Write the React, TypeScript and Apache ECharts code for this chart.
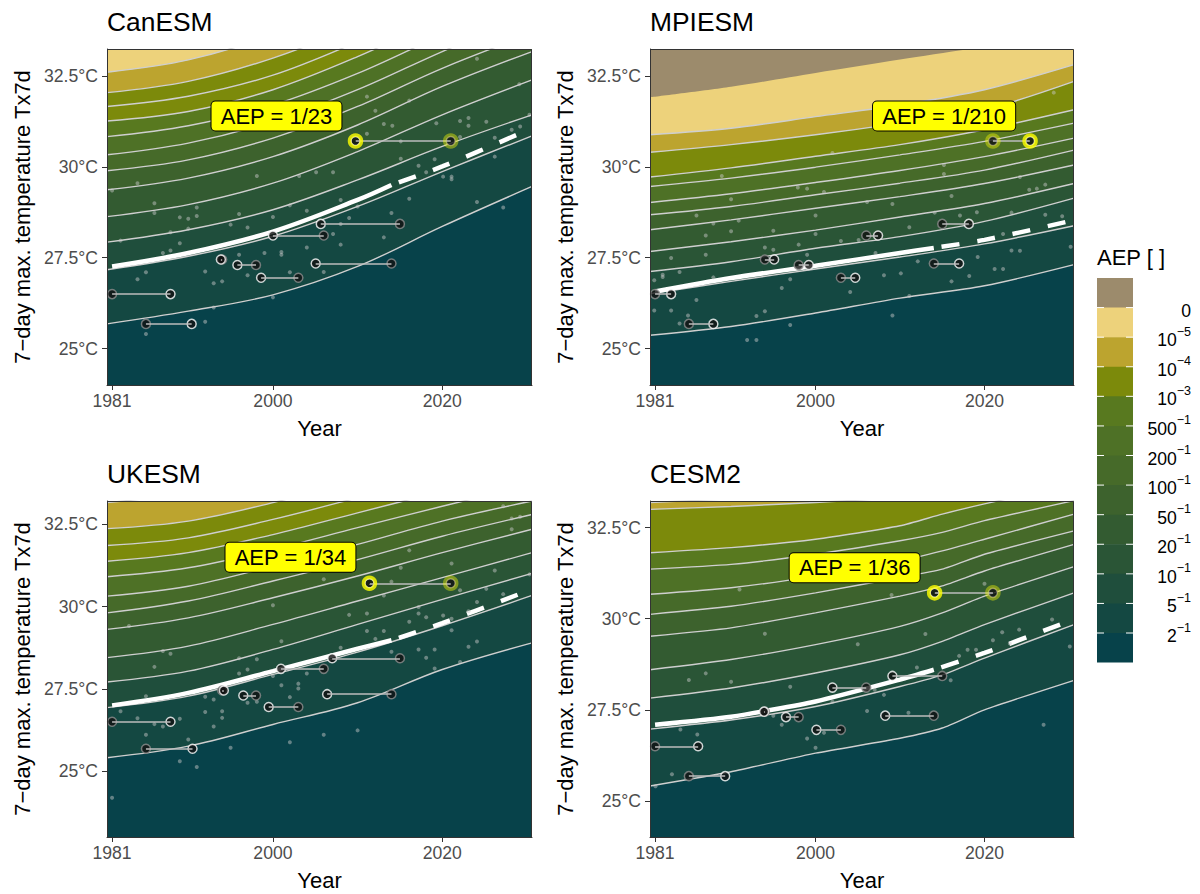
import React, { useEffect, useRef } from "react";
import * as echarts from "echarts";

const FONT = "'Liberation Sans', Arial, Helvetica, sans-serif";

// legend palette, top (AEP 0) to bottom (AEP > 1/2)
const PALETTE = ["#9C8B6C", "#EDD27B", "#BCA42F", "#7C8A0B", "#58791F", "#4E7126", "#466A29", "#3D622D", "#335B31", "#2A5536", "#1F4E3C", "#144842", "#07424A"];
const legendBase = ["0", "10", "10", "10", "500", "200", "100", "50", "20", "10", "5", "2"];
const legendExp = ["", "−5", "−4", "−3", "−1", "−1", "−1", "−1", "−1", "−1", "−1", "−1"];

const xTicks = [1981, 2000, 2020];
const yTicks = [25, 27.5, 30, 32.5];

// observed events (grey ring) and their model-equivalent years (white ring)
const obsYears = [1981, 1985, 1994, 1998, 2003, 2006, 2014, 2015, 2021];
const obsTemps = [26.5, 25.68, 27.45, 27.3, 26.95, 28.11, 27.34, 28.43, 30.71];

// ---------- CanESM ----------
const canYears = [1980.4, 1990, 2000, 2010, 2020, 2030.6];
const canContours = [
  [25.68, 26.03, 26.48, 27.26, 28.36, 29.46],
  [27.17, 27.54, 28.09, 28.91, 29.87, 30.85],
  [27.93, 28.27, 28.82, 29.64, 30.56, 31.43],
  [28.63, 28.96, 29.55, 30.42, 31.43, 32.39],
  [29.37, 29.69, 30.28, 31.15, 32.21, 33.17],
  [29.89, 30.19, 30.79, 31.66, 32.71, 33.67],
  [30.33, 30.65, 31.25, 32.12, 33.17, 34.2],
  [30.83, 31.13, 31.7, 32.57, 33.63, 34.7],
  [31.26, 31.52, 32.12, 33.03, 34.1, 35.2],
  [31.66, 31.94, 32.52, 33.44, 34.5, 35.6],
  [32.04, 32.35, 32.99, 33.9, 35.0, 36.0],
  [32.6, 32.94, 33.63, 34.6, 35.6, 36.6],
];
const canBandAbove = [11, 10, 9, 8, 7, 6, 5, 4, 3, 3, 2, 1];
const canWhiteYears = [1981, 1990, 2000, 2010, 2014, 2020, 2030];
const canWhite = [27.26, 27.63, 28.22, 29.09, 29.5, 30.01, 31.0];
const canEquiv = [1987.9, 1990.4, 1993.85, 1995.8, 1998.6, 2000.0, 2005.05, 2005.65, 2009.75];
const canPoints = [
  [2024.1, 32.97], [2029.1, 32.27], [2011.1, 31.93], [2016.1, 31.82], [2012.1, 31.54], [2019.3, 31.2], [2013.1, 31.18],
  [2014.1, 31.13], [2022.1, 31.26], [2023.1, 31.34], [2023.1, 31.13], [2025.2, 31.24], [2030.3, 31.43], [2011.1, 30.91],
  [2026.2, 30.8], [2028.2, 31.02], [2029.2, 31.11], [2015.1, 30.7], [2022.1, 30.82], [2026.2, 30.28], [2019.1, 30.21],
  [2015.1, 30.22], [2017.2, 30.03], [2018.1, 29.85], [2020.1, 29.73], [2021.1, 29.73], [2021.1, 29.66], [1998.1, 29.75],
  [2003.1, 29.75], [2005.1, 29.85], [2007.1, 29.85], [1984.0, 29.55], [1981.0, 29.35], [1986.0, 29.0], [1986.0, 28.73],
  [1991.0, 28.88], [1991.0, 28.65], [1989.0, 28.61], [1990.0, 28.57], [1990.0, 28.3], [1987.9, 28.2], [1982.0, 27.97],
  [1989.0, 27.9], [1996.0, 28.7], [1997.0, 28.33], [1995.0, 28.41], [2002.0, 28.94], [2000.0, 28.62], [2004.0, 28.79],
  [2008.0, 29.09], [2010.0, 28.91], [2009.0, 28.59], [2008.0, 28.43], [2007.1, 28.15], [2014.0, 28.73], [2016.1, 29.12],
  [2013.1, 28.06], [2008.0, 27.86], [2004.0, 27.78], [2001.0, 27.66], [2001.0, 27.58], [1999.0, 27.63], [1996.0, 27.58],
  [1987.9, 27.7], [1987.0, 27.63], [1985.0, 27.1], [1984.0, 26.91], [1992.0, 27.12], [1997.0, 27.02], [1994.0, 26.85],
  [1993.0, 26.8], [2002.0, 27.1], [2006.0, 27.11], [2000.0, 26.41], [1993.0, 26.13], [1992.0, 25.74], [1985.0, 25.4],
  [2024.1, 29.03], [2027.2, 28.88],
];

// ---------- MPIESM ----------
const mpiYears = [1980.4, 1990, 2000, 2010, 2020, 2030.6];
const mpiContours = [
  [25.37, 25.61, 25.98, 26.39, 26.73, 27.31],
  [26.51, 26.85, 27.19, 27.52, 27.88, 28.38],
  [27.12, 27.39, 27.76, 28.08, 28.5, 29.14],
  [27.67, 27.94, 28.26, 28.62, 28.99, 29.54],
  [28.27, 28.54, 28.86, 29.18, 29.54, 30.05],
  [28.68, 28.91, 29.23, 29.55, 29.91, 30.46],
  [29.02, 29.26, 29.57, 29.9, 30.28, 30.79],
  [29.46, 29.69, 29.99, 30.33, 30.7, 31.2],
  [29.72, 29.97, 30.29, 30.61, 31.02, 31.57],
  [30.4, 30.61, 30.88, 31.2, 31.57, 32.35],
  [30.88, 31.06, 31.38, 31.7, 32.12, 32.81],
];
const mpiBandAbove = [11, 10, 9, 8, 7, 6, 5, 4, 3, 2, 1];
const mpiZeroEdge = [31.91, 32.2, 32.58, 32.95, 33.3, 33.65];
const mpiWhiteYears = [1981, 1990, 2000, 2010, 2014, 2020, 2030];
const mpiWhite = [26.57, 26.94, 27.28, 27.63, 27.77, 27.99, 28.5];
const mpiEquiv = [1982.9, 1987.9, 1995.1, 1999.2, 2004.7, 2007.4, 2017.0, 2018.15, 2025.4];
const mpiPoints = [
  [2028.2, 32.04], [2002.0, 30.38], [1988.9, 29.75], [2015.2, 30.05], [2015.2, 29.8], [2024.2, 29.72], [1990.0, 29.11],
  [1997.9, 29.43], [1999.0, 29.4], [2001.0, 29.31], [2006.1, 29.03], [2009.1, 28.98], [2016.1, 29.2], [2025.3, 29.37],
  [2026.2, 29.4], [2027.2, 29.51], [1985.9, 28.66], [1990.9, 28.52], [2000.0, 28.66], [2014.1, 28.74], [2017.1, 28.66],
  [2019.1, 28.75], [2023.2, 28.74], [2027.2, 28.68], [2029.2, 28.64], [1987.0, 28.11], [1987.9, 28.44], [1990.0, 28.23],
  [1995.0, 28.24], [2000.0, 28.15], [2003.0, 27.96], [2005.1, 27.99], [1998.0, 27.86], [1995.0, 27.72], [1994.0, 27.78],
  [2007.1, 27.63], [2011.1, 28.34], [2022.2, 28.15], [1982.9, 27.49], [1987.0, 27.58], [1999.0, 27.58], [1980.9, 26.88],
  [1981.9, 27.03], [1981.9, 26.97], [1983.9, 27.11], [1987.9, 26.96], [1997.0, 26.91], [1996.0, 26.67], [2004.1, 26.56],
  [2008.1, 27.02], [2010.1, 27.07], [2012.1, 27.4], [2016.1, 26.85], [2018.2, 27.0], [2019.2, 27.52], [2021.2, 27.19],
  [2022.2, 27.19], [2023.2, 27.7], [2024.2, 27.69], [2030.2, 27.8], [1985.9, 26.34], [1980.9, 26.05], [1982.9, 26.05],
  [1984.9, 25.91], [1983.9, 25.69], [1993.0, 25.9], [1994.0, 26.03], [1997.0, 25.65], [1991.9, 25.24], [1993.0, 25.24],
  [2009.1, 25.91], [2011.1, 26.45],
];

// ---------- UKESM ----------
const ukYears = [1980.4, 1990, 2000, 2010, 2020, 2030.6];
const ukContours = [
  [25.41, 25.76, 26.42, 27.08, 28.09, 28.9],
  [26.93, 27.28, 27.94, 28.62, 29.42, 30.34],
  [27.71, 28.04, 28.7, 29.46, 30.22, 31.01],
  [28.45, 28.8, 29.46, 30.17, 30.88, 31.64],
  [29.31, 29.66, 30.27, 30.93, 31.64, 32.35],
  [29.81, 30.17, 30.78, 31.43, 32.14, 32.8],
  [30.32, 30.62, 31.23, 31.89, 32.6, 33.21],
  [30.91, 31.18, 31.74, 32.4, 33.05, 33.71],
  [31.38, 31.64, 32.19, 32.85, 33.51, 34.2],
  [31.86, 32.09, 32.65, 33.31, 34.0, 34.7],
  [32.37, 32.6, 33.16, 33.85, 34.5, 35.2],
  [33.16, 33.46, 34.0, 34.6, 35.2, 35.8],
];
const ukBandAbove = [11, 10, 9, 8, 7, 6, 5, 4, 3, 3, 2, 2];
const ukWhiteYears = [1981, 1990, 2000, 2010, 2014, 2020, 2030];
const ukWhite = [27.0, 27.38, 28.04, 28.72, 28.98, 29.5, 30.47];
const ukEquiv = [1987.9, 1990.5, 1994.2, 1996.5, 1999.5, 2000.95, 2006.4, 2007.0, 2011.4];
const ukPoints = [
  [2027.2, 33.05], [2028.2, 32.68], [2029.2, 32.73], [2028.2, 32.35], [2016.1, 31.71], [2021.1, 31.31], [2015.1, 31.18],
  [2026.2, 31.1], [2006.0, 30.83], [2014.0, 30.76], [2022.1, 30.5], [2013.1, 30.34], [2030.3, 30.98], [2025.2, 30.54],
  [2027.2, 30.38], [2000.0, 30.04], [2009.0, 29.75], [2011.1, 29.79], [2017.2, 29.99], [2017.2, 29.79], [2018.1, 29.68],
  [2016.1, 29.54], [2020.1, 29.73], [2021.1, 29.63], [2023.1, 29.86], [2024.1, 30.14], [1983.0, 29.41], [2011.1, 29.26],
  [2012.1, 29.02], [2013.1, 29.26], [2021.1, 29.28], [2001.0, 28.95], [1987.0, 28.65], [1987.9, 28.57], [1986.0, 28.17],
  [1996.0, 28.43], [1997.0, 28.09], [1996.0, 27.97], [1998.1, 28.4], [2000.0, 27.89], [2004.0, 27.97], [2008.0, 28.75],
  [2014.0, 28.63], [2017.2, 28.7], [2019.1, 28.7], [2018.1, 28.45], [2019.1, 28.12], [2022.1, 28.32], [2023.1, 28.78],
  [2024.1, 28.94], [2001.0, 27.61], [2003.0, 27.66], [2003.0, 27.51], [1997.0, 27.08], [1998.1, 27.11], [2002.0, 27.25],
  [1985.0, 27.28], [1992.0, 27.26], [1993.0, 27.18], [1994.0, 26.82], [1994.0, 26.62], [1992.0, 26.8], [1982.0, 26.82],
  [1984.0, 26.61], [1986.0, 26.43], [1987.0, 26.36], [1989.0, 26.59], [1993.0, 26.36], [1985.0, 26.11], [1990.0, 25.96],
  [1989.0, 25.3], [1991.0, 25.13], [1995.0, 25.71], [2002.0, 25.88], [2006.0, 26.11], [2010.0, 26.24], [1981.0, 24.19],
];

// ---------- CESM2 ----------
const cesYears = [1980.4, 1990, 2000, 2010, 2015, 2020, 2030.6];
const cesContours = [
  [25.41, 25.8, 26.31, 26.72, 27.0, 27.5, 28.31],
  [26.97, 27.22, 27.59, 28.14, 28.46, 28.92, 29.84],
  [27.82, 28.1, 28.51, 29.01, 29.38, 29.84, 30.71],
  [28.6, 28.88, 29.29, 29.79, 30.16, 30.62, 31.43],
  [29.52, 29.75, 30.16, 30.62, 30.9, 31.31, 32.04],
  [30.12, 30.34, 30.71, 31.13, 31.36, 31.77, 32.41],
  [30.67, 30.85, 31.17, 31.58, 31.86, 32.18, 32.87],
  [31.36, 31.49, 31.77, 32.14, 32.37, 32.69, 33.24],
  [31.81, 31.95, 32.18, 32.55, 32.87, 33.15, 33.7],
  [33.0, 33.08, 33.19, 33.33, 33.47, 33.65, 34.02],
  [33.19, 33.29, 33.45, 33.6, 33.75, 33.9, 34.3],
];
const cesBandAbove = [11, 10, 9, 8, 7, 6, 5, 4, 3, 2, 1];
const cesWhiteYears = [1981, 1990, 2000, 2010, 2014, 2020, 2030];
const cesWhite = [27.09, 27.31, 27.73, 28.33, 28.6, 29.06, 29.93];
const cesEquiv = [1986.1, 1989.3, 1993.9, 1996.5, 2000.1, 2002.0, 2008.25, 2009.1, 2014.1];
const cesPoints = [
  [1991.0, 30.8], [2009.0, 30.65], [2020.0, 30.96], [1994.0, 29.59], [2013.0, 29.58], [2005.0, 29.3], [2022.1, 29.63],
  [2024.1, 29.7], [2023.0, 29.32], [2021.0, 29.41], [2028.0, 29.98], [2030.1, 29.24], [2017.0, 28.98], [2018.0, 29.15],
  [2019.0, 29.15], [1987.0, 28.5], [1985.0, 28.32], [1990.0, 28.27], [2012.0, 28.66], [2016.0, 28.31], [1997.0, 28.13],
  [2002.0, 27.72], [2007.0, 28.05], [2008.1, 27.91], [2006.1, 27.47], [2011.0, 27.42], [1995.0, 27.34], [1996.0, 27.09],
  [2001.0, 26.87], [1999.0, 26.71], [2000.0, 26.46], [1984.0, 26.96], [1986.0, 26.82], [2027.0, 27.09], [1983.0, 25.73],
  [1981.05, 25.4],
];

const SPLIT_YEAR = 2014;

const PANELS = [
  { title: "CanESM", left: 107, top: 49, width: 425, height: 336, yMin: 24.0, yMax: 33.24, years: canYears, contours: canContours, bandAbove: canBandAbove, edge: null as number[] | null, whiteYears: canWhiteYears, white: canWhite, equiv: canEquiv, points: canPoints, aep: "AEP = 1/23", labelOffset: [-79, -25], smooth: 0.35 },
  { title: "MPIESM", left: 650, top: 49, width: 424, height: 336, yMin: 24.0, yMax: 33.24, years: mpiYears, contours: mpiContours, bandAbove: mpiBandAbove, edge: mpiZeroEdge, whiteYears: mpiWhiteYears, white: mpiWhite, equiv: mpiEquiv, points: mpiPoints, aep: "AEP = 1/210", labelOffset: [-86, -25], smooth: 0.3 },
  { title: "UKESM", left: 107, top: 501, width: 425, height: 336, yMin: 23.0, yMax: 33.21, years: ukYears, contours: ukContours, bandAbove: ukBandAbove, edge: null as number[] | null, whiteYears: ukWhiteYears, white: ukWhite, equiv: ukEquiv, points: ukPoints, aep: "AEP = 1/34", labelOffset: [-79, -26], smooth: 0.35 },
  { title: "CESM2", left: 650, top: 501, width: 424, height: 336, yMin: 24.01, yMax: 33.23, years: cesYears, contours: cesContours, bandAbove: cesBandAbove, edge: null as number[] | null, whiteYears: cesWhiteYears, white: cesWhite, equiv: cesEquiv, points: cesPoints, aep: "AEP = 1/36", labelOffset: [-80, -25], smooth: 0.2 },
];

function buildOption() {
  const grid: any[] = [];
  const xAxis: any[] = [];
  const yAxis: any[] = [];
  const series: any[] = [];
  const graphic: any[] = [];

  PANELS.forEach((p, gi) => {
    const fillCurves = p.edge ? [...p.contours, p.edge] : p.contours;
    const fillAbove = p.edge ? [...p.bandAbove, 0] : p.bandAbove;
    const topIdx = fillAbove[fillAbove.length - 1];

    grid.push({ left: p.left, top: p.top, width: p.width, height: p.height, show: true, backgroundColor: PALETTE[topIdx], borderWidth: 0 });
    xAxis.push({
      type: "value", gridIndex: gi, min: 1980.4, max: 2030.6,
      axisLine: { show: true, lineStyle: { color: "#333333", width: 1 } },
      axisTick: { show: true, customValues: xTicks, length: 5, lineStyle: { color: "#333333" } },
      axisLabel: { customValues: xTicks, color: "#4D4D4D", fontSize: 17.6, fontFamily: FONT, margin: 7, formatter: (v: number) => String(v) },
      splitLine: { show: false },
    });
    yAxis.push({
      type: "value", gridIndex: gi, min: p.yMin, max: p.yMax,
      axisLine: { show: true, lineStyle: { color: "#333333", width: 1 } },
      axisTick: { show: true, customValues: yTicks, length: 5, lineStyle: { color: "#333333" } },
      axisLabel: { customValues: yTicks, color: "#4D4D4D", fontSize: 17.6, fontFamily: FONT, margin: 9, formatter: (v: number) => `${v}°C` },
      splitLine: { show: false },
    });

    // filled bands: each curve filled down to the axis, drawn top curve first
    for (let k = fillCurves.length - 1; k >= 0; k--) {
      const below = k === 0 ? 12 : fillAbove[k - 1];
      series.push({
        type: "line", xAxisIndex: gi, yAxisIndex: gi, silent: true, z: 1,
        data: p.years.map((y, j) => [y, fillCurves[k][j]]),
        smooth: p.smooth, symbol: "none",
        lineStyle: { width: 0, opacity: 0 },
        areaStyle: { color: PALETTE[below], opacity: 1, origin: "start" },
      });
    }
    // contour lines
    p.contours.forEach((c) => {
      series.push({
        type: "line", xAxisIndex: gi, yAxisIndex: gi, silent: true, z: 2,
        data: p.years.map((y, j) => [y, c[j]]),
        smooth: p.smooth, symbol: "none",
        lineStyle: { color: "#CFCFCF", width: 1.4 },
      });
    });
    // median line: solid up to SPLIT_YEAR, dashed after
    const wdata = p.whiteYears.map((y, j) => [y, p.white[j]]);
    series.push({
      type: "line", xAxisIndex: gi, yAxisIndex: gi, silent: true, z: 3,
      data: wdata.filter((d) => d[0] <= SPLIT_YEAR), smooth: p.smooth, symbol: "none",
      lineStyle: { color: "#FFFFFF", width: 4.5, cap: "butt" },
    });
    series.push({
      type: "line", xAxisIndex: gi, yAxisIndex: gi, silent: true, z: 3,
      data: wdata.filter((d) => d[0] >= SPLIT_YEAR), smooth: p.smooth, symbol: "none",
      lineStyle: { color: "#FFFFFF", width: 4.5, type: [18, 18], dashOffset: 28, cap: "butt" },
    });
    // annual points
    series.push({
      type: "scatter", xAxisIndex: gi, yAxisIndex: gi, silent: true, z: 4,
      data: p.points, symbolSize: 4,
      itemStyle: { color: "rgba(200,200,200,0.6)" },
    });
    // event circles
    series.push({
      type: "scatter", xAxisIndex: gi, yAxisIndex: gi, silent: true, z: 5,
      data: obsYears.map((y, i) => [y, obsTemps[i]]), symbolSize: 9,
      itemStyle: { color: "#111111", borderColor: "#8F8F8F", borderWidth: 1.5 },
    });
    series.push({
      type: "scatter", xAxisIndex: gi, yAxisIndex: gi, silent: true, z: 5,
      data: p.equiv.map((y, i) => [y, obsTemps[i]]), symbolSize: 9,
      itemStyle: { color: "#111111", borderColor: "#FFFFFF", borderWidth: 1.5 },
    });
    // connecting segments
    series.push({
      type: "lines", coordinateSystem: "cartesian2d", xAxisIndex: gi, yAxisIndex: gi, silent: true, z: 6,
      data: obsYears.map((y, i) => ({ coords: [[y, obsTemps[i]], [p.equiv[i], obsTemps[i]]] })),
      lineStyle: { color: "#BDBDBD", width: 1.5, opacity: 1 },
    });
    // highlighted event rings
    const last = obsYears.length - 1;
    series.push({
      type: "scatter", xAxisIndex: gi, yAxisIndex: gi, silent: true, z: 7,
      data: [[obsYears[last], obsTemps[last]]], symbolSize: 12,
      itemStyle: { color: "rgba(0,0,0,0)", borderColor: "rgba(255,255,0,0.5)", borderWidth: 3.5 },
    });
    series.push({
      type: "scatter", xAxisIndex: gi, yAxisIndex: gi, silent: true, z: 7,
      data: [[p.equiv[last], obsTemps[last]]], symbolSize: 12,
      itemStyle: { color: "rgba(0,0,0,0)", borderColor: "#FFFF00", borderWidth: 3.5 },
    });
    // AEP label anchored at the highlighted model-equivalent event
    series.push({
      type: "scatter", xAxisIndex: gi, yAxisIndex: gi, silent: true, z: 9,
      data: [[p.equiv[last], obsTemps[last]]], symbol: "circle", symbolSize: 1,
      itemStyle: { color: "#111111", opacity: 1 },
      label: {
        show: true, position: "inside", offset: p.labelOffset, formatter: p.aep,
        backgroundColor: "#FFFF00", borderColor: "#000000", borderWidth: 1, borderRadius: 4,
        padding: [4, 9, 3, 9], fontSize: 22, fontFamily: FONT, color: "#000000", opacity: 1,
      },
    });

    // panel border, title, axis titles
    graphic.push({ type: "rect", z: 100, silent: true, shape: { x: p.left + 0.5, y: p.top + 0.5, width: p.width - 1, height: p.height }, style: { fill: "none", stroke: "#333333", lineWidth: 1 } });
    graphic.push({ type: "text", z: 100, silent: true, x: p.left, y: p.top - 27, style: { text: p.title, fontSize: 26.4, fontFamily: FONT, fill: "#000000", textAlign: "left", textVerticalAlign: "middle" } });
    graphic.push({ type: "text", z: 100, silent: true, x: p.left + p.width / 2, y: p.top + p.height + 43, style: { text: "Year", fontSize: 22, fontFamily: FONT, fill: "#000000", textAlign: "center", textVerticalAlign: "middle" } });
    graphic.push({ type: "text", z: 100, silent: true, x: p.left - 85, y: p.top + p.height / 2, rotation: Math.PI / 2, style: { text: "7−day max. temperature Tx7d", fontSize: 22, fontFamily: FONT, fill: "#000000", textAlign: "center", textVerticalAlign: "middle" } });
  });

  // legend (colour steps)
  const BX = 1097, BY = 278, BW = 36, BH = 384.6;
  const step = BH / PALETTE.length;
  graphic.push({ type: "text", silent: true, x: BX, y: 257, style: { text: "AEP [ ]", fontSize: 22, fontFamily: FONT, fill: "#000000", textAlign: "left", textVerticalAlign: "middle" } });
  PALETTE.forEach((c, i) => {
    graphic.push({ type: "rect", silent: true, shape: { x: BX, y: BY + i * step, width: BW, height: i === PALETTE.length - 1 ? step : step + 0.6 }, style: { fill: c } });
  });
  legendBase.forEach((b, j) => {
    const y = BY + (j + 1) * step;
    graphic.push({ type: "line", silent: true, z: 10, shape: { x1: BX, y1: y, x2: BX + 7, y2: y }, style: { stroke: "#FFFFFF", lineWidth: 1 } });
    graphic.push({ type: "line", silent: true, z: 10, shape: { x1: BX + BW - 7, y1: y, x2: BX + BW, y2: y }, style: { stroke: "#FFFFFF", lineWidth: 1 } });
    const e = legendExp[j];
    graphic.push({
      type: "text", silent: true, x: 1191, y,
      style: {
        text: e ? `{b|${b}}{s|${e}}` : `{b|${b}}`,
        textAlign: "right", textVerticalAlign: "middle", fill: "#000000", fontFamily: FONT,
        rich: {
          b: { fontSize: 17.6, fontFamily: FONT, fill: "#000000", lineHeight: 24, verticalAlign: "bottom" },
          s: { fontSize: 12.5, fontFamily: FONT, fill: "#000000", lineHeight: 10, verticalAlign: "top" },
        },
      },
    });
  });

  return { animation: false, backgroundColor: "#FFFFFF", grid, xAxis, yAxis, series, graphic };
}

export default function App() {
  const ref = useRef<HTMLDivElement>(null);
  useEffect(() => {
    if (!ref.current) return;
    const chart = echarts.init(ref.current, undefined, { renderer: "svg" });
    chart.setOption(buildOption() as any);
    return () => chart.dispose();
  }, []);
  return <div ref={ref} style={{ position: "absolute", left: 0, top: 0, width: 1200, height: 894 }} />;
}
